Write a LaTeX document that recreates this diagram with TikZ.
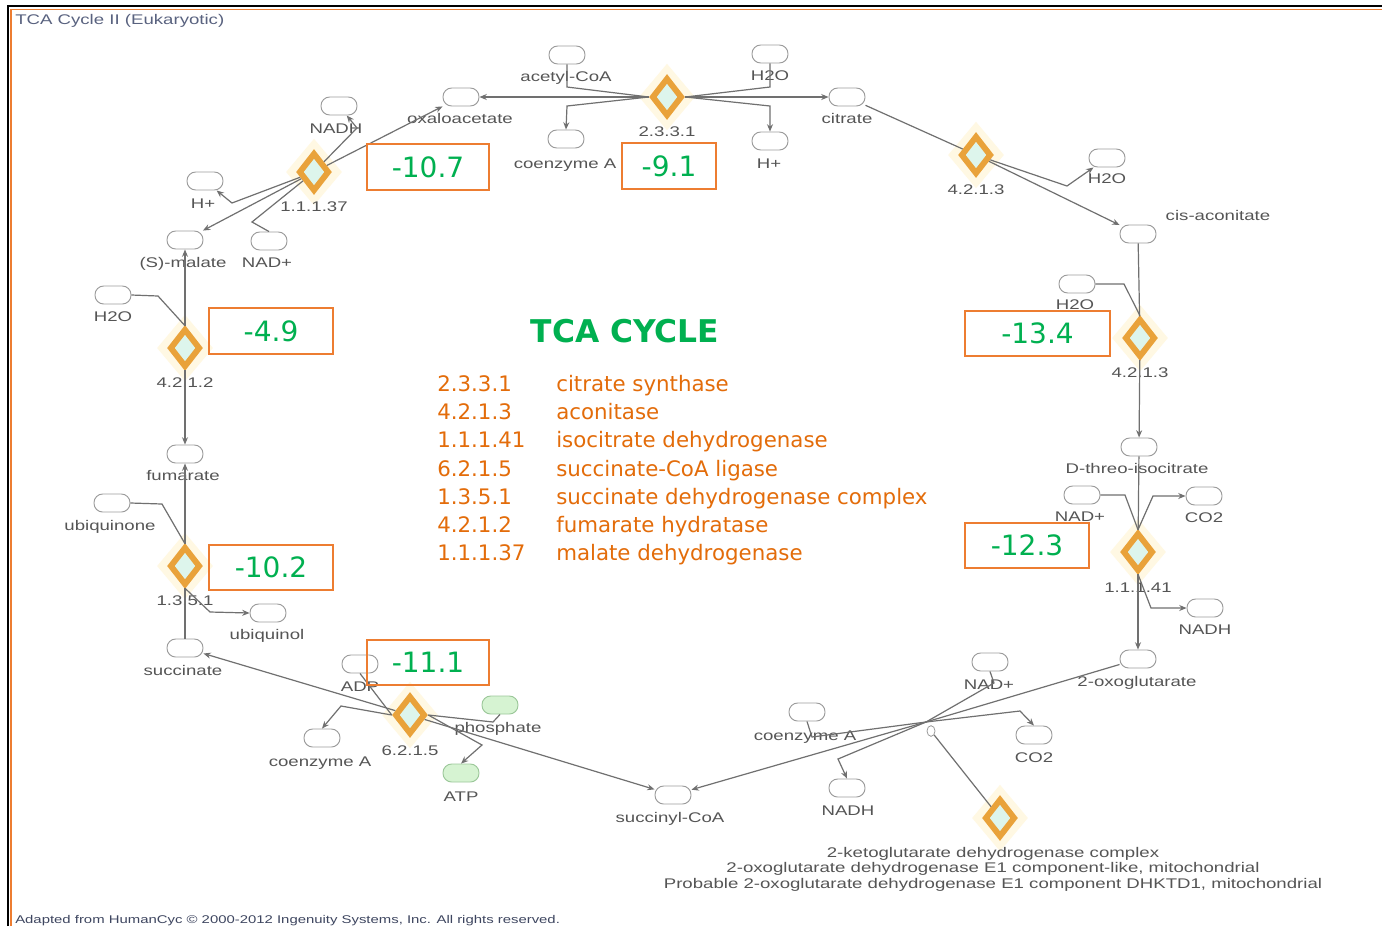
\documentclass[tikz,border=0pt]{standalone}
\usepackage{fontspec}
\setmainfont{DejaVu Sans}
\newfontfamily\lblfont[FakeStretch=1.33]{Liberation Sans}
\usetikzlibrary{shapes.geometric,arrows.meta}

\definecolor{lblgray}{HTML}{555555}
\definecolor{linegray}{HTML}{707070}
\definecolor{ovalgray}{HTML}{9C9C9C}
\definecolor{enzorange}{HTML}{E9A23A}
\definecolor{enzfill}{HTML}{DDF5EC}
\definecolor{glow}{HTML}{FFF3CC}
\definecolor{valgreen}{HTML}{00B050}
\definecolor{boxorange}{HTML}{ED7D31}
\definecolor{legorange}{HTML}{E36C0A}
\definecolor{pgreenfill}{HTML}{D6F3D2}
\definecolor{pgreenline}{HTML}{9CC89A}
\definecolor{hdrblue}{HTML}{59627F}
\definecolor{footgray}{HTML}{3E4660}

\tikzset{
  met/.style={draw=ovalgray, fill=white, rounded corners=6.5pt, minimum width=27pt,
    minimum height=13.5pt, inner sep=0pt, line width=0.7pt},
  metg/.style={met, draw=pgreenline, fill=pgreenfill},
  lbl/.style={text=lblgray, font=\lblfont\fontsize{10.5}{12}\selectfont, inner sep=0pt,
    anchor=base, yshift=-3.75pt},
  enz/.style={diamond, draw=enzorange, fill=enzfill, line width=4.4pt,
    minimum width=23pt, minimum height=29pt, inner sep=0pt},
  halo/.style={diamond, fill=glow, opacity=0.55, minimum width=42pt,
    minimum height=50pt, inner sep=0pt},
  conn/.style={draw=linegray, line width=0.9pt},
  arr/.style={conn, -{Stealth[length=5.5pt,width=4.5pt]}},
  valbox/.style={draw=boxorange, line width=1.3pt, text=valgreen,
    font=\fontsize{21}{22}\selectfont, inner sep=0pt, minimum height=34pt},
  legtext/.style={text=legorange, font=\fontsize{16}{18}\selectfont, inner sep=0pt,
    anchor=base west}
}

% enzyme reaction box: name, position
\newcommand\enzymeat[2]{%
  \node[halo] (#1-glow) at #2 {};
  \node[enz] (#1) at #2 {};}

\begin{document}
\begin{tikzpicture}[x=0.75pt,y=-0.75pt]
\useasboundingbox (0,0) rectangle (1382,926);
\fill[white] (0,0) rectangle (1382,926);

% frame
\draw[black, line width=1.9pt] (7.8,926) -- (7.8,6) -- (1382,6);
\draw[boxorange, line width=1.2pt] (10.7,926) -- (10.7,9.4) -- (1382,9.4);

\node[text=hdrblue, font=\lblfont\fontsize{10.5}{12}\selectfont, anchor=base west, inner sep=0pt]
  (hdr) at (15,24) {TCA Cycle II (Eukaryotic)};
\node[text=footgray, font=\lblfont\fontsize{8.4}{9}\selectfont, anchor=base west, inner sep=0pt]
  (foot) at (15,923) {Adapted from HumanCyc \textcopyright{} 2000-2012 Ingenuity Systems, Inc. All rights reserved.};

% ---------- metabolites ----------
\node[met] (oxa) at (461,97) {};      \node[lbl] (l-oxa) at (460,118) {oxaloacetate};
\node[met] (acoa) at (567,55) {};     \node[lbl] (l-acoa) at (566,76) {acetyl-CoA};
\node[met] (w1) at (770,54) {};       \node[lbl] (l-w1) at (770,75) {H2O};
\node[met] (coa1) at (566,139) {};    \node[lbl] (l-coa1) at (565,163) {coenzyme A};
\node[met] (hp1) at (770,141) {};     \node[lbl] (l-hp1) at (769,163) {H+};
\node[met] (cit) at (847,97) {};      \node[lbl] (l-cit) at (847,118) {citrate};
\node[met] (w2) at (1107,158) {};     \node[lbl] (l-w2) at (1107,178) {H2O};
\node[met] (cis) at (1138,234) {};    \node[lbl] (l-cis) at (1218,215) {cis-aconitate};
\node[met] (w3) at (1077,284) {};     \node[lbl] (l-w3) at (1075,304) {H2O};
\node[met] (iso) at (1139,447) {};    \node[lbl] (l-iso) at (1137,468) {D-threo-isocitrate};
\node[met] (nad1) at (1082,495) {};   \node[lbl] (l-nad1) at (1080,516) {NAD+};
\node[met] (co21) at (1204,496) {};   \node[lbl] (l-co21) at (1204,517) {CO2};
\node[met] (nadh1) at (1205,608) {};  \node[lbl] (l-nadh1) at (1205,629) {NADH};
\node[met] (oxo) at (1138,659) {};    \node[lbl] (l-oxo) at (1137,681) {2-oxoglutarate};
\node[met] (nad2) at (990,662) {};    \node[lbl] (l-nad2) at (989,684) {NAD+};
\node[met] (co22) at (1034,735) {};   \node[lbl] (l-co22) at (1034,757) {CO2};
\node[met] (coa2) at (807,712) {};    \node[lbl] (l-coa2) at (805,735) {coenzyme A};
\node[met] (nadh2) at (847,788) {};   \node[lbl] (l-nadh2) at (848,810) {NADH};
\node[met] (scoa) at (673,795) {};    \node[lbl] (l-scoa) at (670,817) {succinyl-CoA};
\node[met] (adp) at (360,664) {};     \node[lbl] (l-adp) at (360,686) {ADP};
\node[metg] (pi) at (500,705) {};     \node[lbl] (l-pi) at (498,727) {phosphate};
\node[metg] (atp) at (461,773) {};    \node[lbl] (l-atp) at (461,796) {ATP};
\node[met] (coa3) at (322,738) {};    \node[lbl] (l-coa3) at (320,761) {coenzyme A};
\node[met] (succ) at (185,648) {};    \node[lbl] (l-succ) at (183,670) {succinate};
\node[met] (ubqol) at (268,613) {};   \node[lbl] (l-ubqol) at (267,634) {ubiquinol};
\node[met] (ubq) at (112,503) {};     \node[lbl] (l-ubq) at (110,525) {ubiquinone};
\node[met] (fum) at (185,454) {};     \node[lbl] (l-fum) at (183,475) {fumarate};
\node[met] (w4) at (113,295) {};      \node[lbl] (l-w4) at (113,316) {H2O};
\node[met] (mal) at (185,240) {};     \node[lbl] (l-mal) at (183,262) {(S)-malate};
\node[met] (nad3) at (269,241) {};    \node[lbl] (l-nad3) at (267,262) {NAD+};
\node[met] (hp3) at (205,181) {};     \node[lbl] (l-hp3) at (203,203) {H+};
\node[met] (nadh3) at (339,106) {};   \node[lbl] (l-nadh3) at (336,128) {NADH};

% ---------- enzymes ----------
\enzymeat{cs}{(667,97)}     \node[lbl] (l-cs) at (667,131) {2.3.3.1};
\enzymeat{acoA}{(976,155)}  \node[lbl] (l-acoA) at (976,189) {4.2.1.3};
\enzymeat{acoB}{(1140,338)} \node[lbl] (l-acoB) at (1140,372) {4.2.1.3};
\enzymeat{idh}{(1138,552)}  \node[lbl] (l-idh) at (1138,587) {1.1.1.41};
\enzymeat{kgdh}{(1000,818)}
\enzymeat{scl}{(410,715)}   \node[lbl] (l-scl) at (410,750) {6.2.1.5};
\enzymeat{sdh}{(185,566)}   \node[lbl] (l-sdh) at (185,600) {1.3.5.1};
\enzymeat{fh}{(185,348)}    \node[lbl] (l-fh) at (185,382) {4.2.1.2};
\enzymeat{mdh}{(314,172)}   \node[lbl] (l-mdh) at (314,206) {1.1.1.37};

\node[lbl, align=center, anchor=north, yshift=0pt, font=\lblfont\fontsize{10.5}{11.6}\selectfont]
  (l-kgdh) at (993,842) {2-ketoglutarate dehydrogenase complex\\
  2-oxoglutarate dehydrogenase E1 component-like, mitochondrial\\
  Probable 2-oxoglutarate dehydrogenase E1 component DHKTD1, mitochondrial};

% ---------- citrate synthase ----------
\draw[arr] (cs.west) -- (oxa.east);
\draw[arr] (cs.east) -- (cit.west);
\draw[conn] (acoa.south) -- (567,87) -- (cs.west);
\draw[arr] (cs.west) -- (567,106) -- (coa1.north);
\draw[conn] (w1.south) -- (770,87) -- (cs.east);
\draw[arr] (cs.east) -- (770,106) -- (hp1.north);

% ---------- aconitase ----------
\draw[conn] (cit) -- (acoA);
\draw[arr] (acoA) -- (cis);
\draw[arr] (acoA) -- (1067,186) -- (w2);
\draw[conn] (cis) -- (acoB);
\draw[arr] (acoB) -- (iso);
\draw[conn] (w3.east) -- (1124,284) -- (acoB.north);

% ---------- isocitrate dehydrogenase ----------
\draw[conn] (iso) -- (idh);
\draw[arr] (idh) -- (oxo);
\draw[conn] (nad1.east) -- (1125,495) -- (idh.north);
\draw[arr] (idh.north) -- (1153,496) -- (co21.west);
\draw[arr] (idh.south) -- (1151,608) -- (nadh1.west);

% ---------- 2-oxoglutarate dehydrogenase ----------
\coordinate (jn) at (926,722);
\draw[conn] (oxo) -- (jn);
\draw[arr] (jn) -- (scoa);
\draw[conn] (nad2.south) -- (994,683) -- (jn);
\draw[arr] (jn) -- (1020,711) -- (co22.north);
\draw[conn] (coa2.south) -- (812,737) -- (jn);
\draw[arr] (jn) -- (838,759) -- (nadh2.north);
\node[draw=ovalgray, fill=white, ellipse, minimum width=6pt, minimum height=8pt,
  inner sep=0pt, line width=0.6pt] (mk) at (931,731) {};
\draw[conn] (mk) -- (kgdh);

% ---------- succinate-CoA ligase ----------
\draw[arr] (scl) -- (scoa);
\draw[arr] (scl) -- (succ);
\draw[conn] (adp.south) -- (scl.west);
\draw[conn] (pi.south) -- (493,722) -- (scl.east);
\draw[arr] (scl.east) -- (482,745) -- (atp.north);
\draw[arr] (scl.west) -- (341,706) -- (coa3.north);

% ---------- succinate dehydrogenase ----------
\draw[conn] (succ) -- (sdh);
\draw[arr] (sdh) -- (fum);
\draw[conn] (ubq.east) -- (162,504) -- (sdh.north);
\draw[arr] (sdh.south) -- (210,612) -- (ubqol.west);

% ---------- fumarate hydratase ----------
\draw[arr] (fh) -- (fum);
\draw[arr] (fh) -- (mal);
\draw[conn] (w4.east) -- (158,296) -- (fh.north);

% ---------- malate dehydrogenase ----------
\draw[arr] (mdh) -- (mal);
\draw[arr] (mdh) -- (oxa);
\draw[arr] (mdh) -- (357,128) -- (nadh3);
\draw[arr] (mdh) -- (232,203) -- (hp3);
\draw[conn] (nad3.north) -- (252,222) -- (mdh);

% ---------- free energy values ----------
\node[valbox, minimum width=91.5pt] (v1) at (428,167) {-10.7};
\node[valbox, minimum width=70.5pt] (v2) at (669,166) {-9.1};
\node[valbox, minimum width=108.75pt] (v3) at (1037.5,333.5) {-13.4};
\node[valbox, minimum width=93pt] (v4) at (271,331) {-4.9};
\node[valbox, minimum width=93pt] (v5) at (1027,545.5) {-12.3};
\node[valbox, minimum width=93pt] (v6) at (271,567.5) {-10.2};
\node[valbox, minimum width=91.5pt] (v7) at (428,662.5) {-11.1};

% ---------- title and key ----------
\node[text=valgreen, font=\bfseries\fontsize{23.5}{26}\selectfont, inner sep=0pt] (title) at (625,331) {TCA CYCLE};
\foreach \ec/\nm [count=\i] in {2.3.3.1/citrate synthase, 4.2.1.3/aconitase,
    1.1.1.41/isocitrate dehydrogenase, 6.2.1.5/succinate-CoA ligase,
    1.3.5.1/succinate dehydrogenase complex, 4.2.1.2/fumarate hydratase,
    1.1.1.37/malate dehydrogenase}{
  \node[legtext] (ec\i) at (437,{384+28.2*(\i-1)+7.5}) {\ec};
  \node[legtext] (nm\i) at (556,{384+28.2*(\i-1)+7.5}) {\nm};
}
\end{tikzpicture}
\end{document}
